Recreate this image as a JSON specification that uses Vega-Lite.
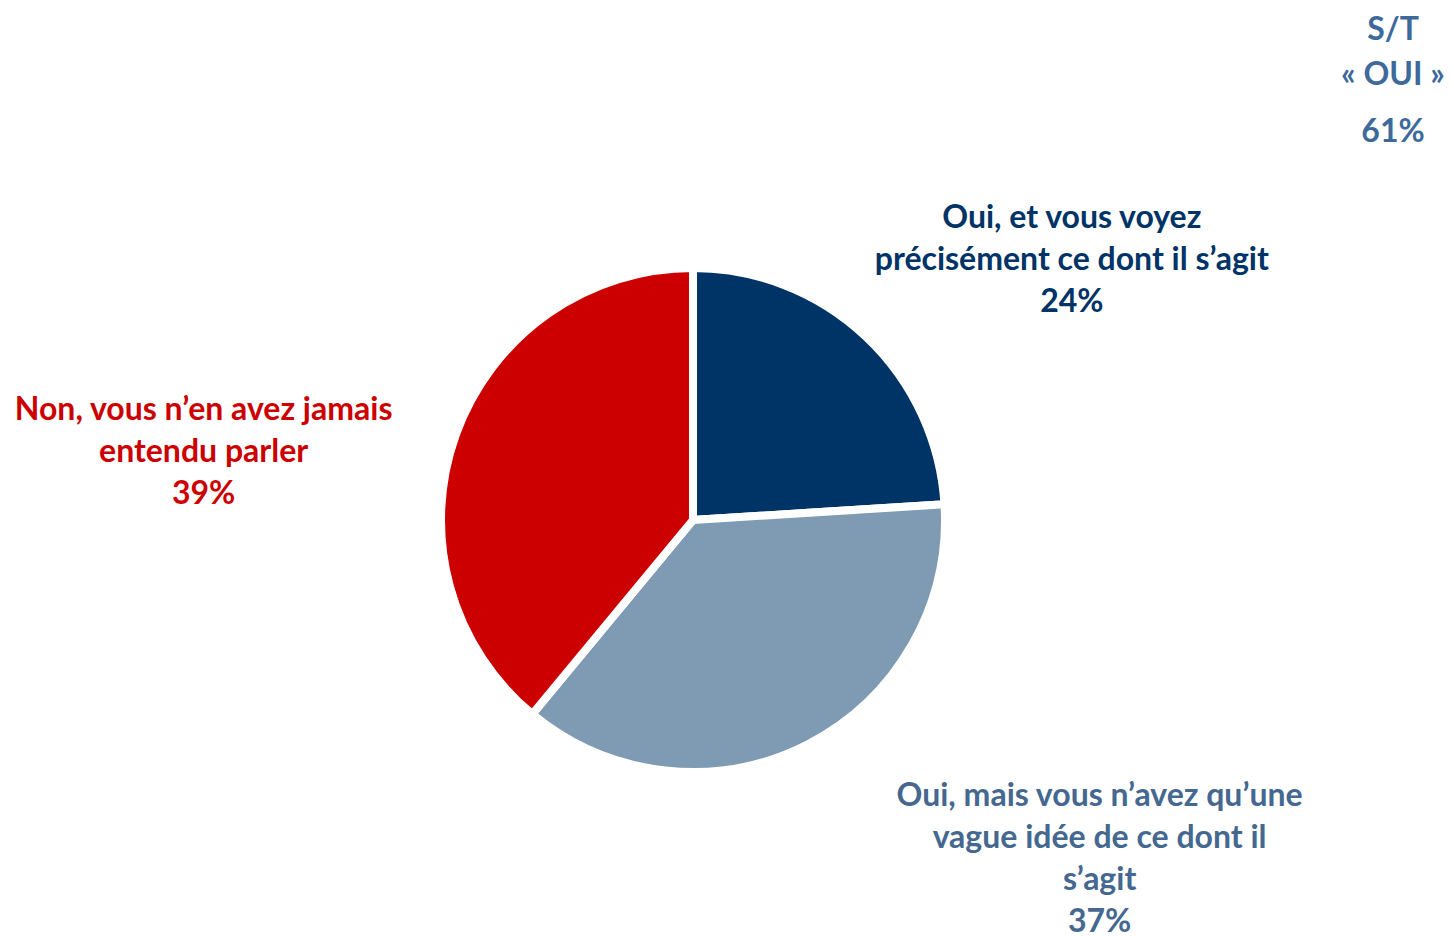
{
  "$schema": "https://vega.github.io/schema/vega-lite/v6.json",
  "width": 1386,
  "height": 692,
  "autosize": {"type": "none"},
  "padding": {"left": 0, "top": 174, "right": 68, "bottom": 70},
  "background": "white",
  "title": {
    "text": ["S/T", "« OUI »"],
    "subtitle": "61%",
    "anchor": "end",
    "align": "center",
    "dx": 7,
    "font": "Lato",
    "fontSize": 32,
    "fontWeight": "bold",
    "color": "#3d6a9a",
    "lineHeight": 45,
    "subtitleFont": "Lato",
    "subtitleFontSize": 32,
    "subtitleFontWeight": "bold",
    "subtitleColor": "#3d6a9a",
    "subtitlePadding": 25,
    "offset": -17
  },
  "data": {
    "values": [
      {"cat": "Oui, et vous voyez précisément ce dont il s’agit", "ord": 1, "value": 24, "label": "Oui, et vous voyez\nprécisément ce dont il s’agit\n24%"},
      {"cat": "Oui, mais vous n’avez qu’une vague idée de ce dont il s’agit", "ord": 2, "value": 37, "label": "Oui, mais vous n’avez qu’une\nvague idée de ce dont il\ns’agit\n37%"},
      {"cat": "Non, vous n’en avez jamais entendu parler", "ord": 3, "value": 39, "label": "Non, vous n’en avez jamais\nentendu parler\n39%"}
    ]
  },
  "encoding": {
    "theta": {"field": "value", "type": "quantitative", "stack": true},
    "order": {"field": "ord", "type": "quantitative"}
  },
  "layer": [
    {
      "mark": {"type": "arc", "outerRadius": 252, "stroke": "white", "strokeWidth": 8, "strokeJoin": "miter"},
      "encoding": {
        "color": {
          "field": "ord",
          "type": "nominal",
          "scale": {"domain": [1, 2, 3], "range": ["#003366", "#7f9ab3", "#cc0000"]},
          "legend": null
        }
      }
    },
    {
      "mark": {"type": "text", "radius": 400, "dx": 105, "dy": -10, "font": "Lato", "fontSize": 32, "fontWeight": "bold", "lineHeight": 42, "lineBreak": "\n", "align": "center", "baseline": "middle", "color": "#003366"},
      "encoding": {
        "text": {"condition": {"test": "datum.ord === 1", "field": "label"}, "value": ""}
      }
    },
    {
      "mark": {"type": "text", "radius": 400, "dx": 225, "dy": -80, "font": "Lato", "fontSize": 32, "fontWeight": "bold", "lineHeight": 42, "lineBreak": "\n", "align": "center", "baseline": "middle", "color": "#44688f"},
      "encoding": {
        "text": {"condition": {"test": "datum.ord === 2", "field": "label"}, "value": ""}
      }
    },
    {
      "mark": {"type": "text", "radius": 400, "dx": -113, "dy": 25, "font": "Lato", "fontSize": 32, "fontWeight": "bold", "lineHeight": 42, "lineBreak": "\n", "align": "center", "baseline": "middle", "color": "#cc0000"},
      "encoding": {
        "text": {"condition": {"test": "datum.ord === 3", "field": "label"}, "value": ""}
      }
    }
  ],
  "config": {"view": {"stroke": null}}
}
